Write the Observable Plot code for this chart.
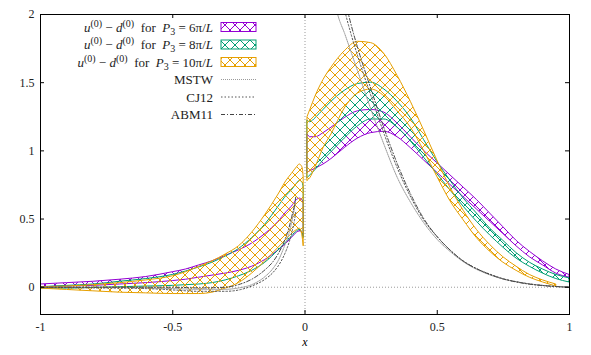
<!DOCTYPE html>
<html><head><meta charset="utf-8">
<script src="https://cdn.jsdelivr.net/npm/d3@7"></script>
<script src="https://cdn.jsdelivr.net/npm/@observablehq/plot@0.6"></script>
<style>
html,body{margin:0;padding:0;background:#fff;}
#chart{width:591px;height:355px;}
</style>
</head><body><div id="chart"></div>
<script>
// ---------- data ----------
const xTicks = [-1, -0.5, 0, 0.5, 1];
const xTickLabels = ["-1", "-0.5", "0", "0.5", "1"];
const yTicks = [0, 0.5, 1, 1.5, 2];
const yTickLabels = ["0", "0.5", "1", "1.5", "2"];

const p3Labels = ["6", "8", "10"];
const pdfNames = ["MSTW", "CJ12", "ABM11"];

const xLeft = [-1, -0.9, -0.8, -0.7, -0.6, -0.5, -0.45, -0.4, -0.35, -0.3, -0.25, -0.2, -0.15, -0.1, -0.07, -0.05, -0.03, -0.02, -0.01, -0.005];
const p6HiLeft  = [0.02, 0.03, 0.04, 0.055, 0.075, 0.11, 0.13, 0.16, 0.19, 0.23, 0.27, 0.32, 0.39, 0.48, 0.55, 0.59, 0.64, 0.65, 0.64, 0.61];
const p6LoLeft  = [0.0, 0.005, 0.01, 0.02, 0.03, 0.045, 0.055, 0.07, 0.085, 0.10, 0.12, 0.15, 0.20, 0.27, 0.32, 0.36, 0.40, 0.41, 0.40, 0.37];
const p8HiLeft  = [0.0, 0.01, 0.02, 0.04, 0.06, 0.09, 0.115, 0.145, 0.18, 0.225, 0.28, 0.36, 0.46, 0.59, 0.67, 0.71, 0.76, 0.78, 0.77, 0.73];
const p8LoLeft  = [-0.01, -0.01, -0.005, 0.0, 0.005, 0.01, 0.015, 0.02, 0.03, 0.05, 0.08, 0.12, 0.18, 0.27, 0.33, 0.37, 0.41, 0.42, 0.40, 0.36];
const p10HiLeft = [0.0, 0.005, 0.015, 0.03, 0.05, 0.08, 0.11, 0.15, 0.19, 0.24, 0.30, 0.40, 0.53, 0.68, 0.78, 0.83, 0.88, 0.90, 0.88, 0.81];
const p10LoLeft = [-0.01, -0.02, -0.03, -0.04, -0.045, -0.05, -0.05, -0.05, -0.04, -0.01, 0.03, 0.10, 0.19, 0.29, 0.35, 0.39, 0.42, 0.43, 0.38, 0.30];

const xRight = [0.01, 0.02, 0.04, 0.07, 0.1, 0.15, 0.2, 0.25, 0.3, 0.35, 0.4, 0.45, 0.5, 0.55, 0.6, 0.65, 0.7, 0.75, 0.8, 0.85, 0.9, 0.95, 1.0];
const p6HiRight  = [1.12, 1.10, 1.10, 1.13, 1.17, 1.24, 1.29, 1.30, 1.28, 1.20, 1.10, 1.00, 0.91, 0.82, 0.73, 0.64, 0.54, 0.44, 0.34, 0.26, 0.19, 0.13, 0.09];
const p6LoRight  = [0.84, 0.85, 0.87, 0.90, 0.94, 1.02, 1.09, 1.13, 1.14, 1.10, 1.02, 0.93, 0.84, 0.75, 0.66, 0.57, 0.48, 0.39, 0.30, 0.22, 0.16, 0.10, 0.07];
const p8HiRight  = [1.22, 1.21, 1.24, 1.30, 1.36, 1.44, 1.49, 1.50, 1.45, 1.36, 1.24, 1.08, 0.92, 0.78, 0.65, 0.54, 0.43, 0.34, 0.25, 0.18, 0.13, 0.09, 0.065];
const p8LoRight  = [0.80, 0.82, 0.86, 0.93, 0.99, 1.09, 1.18, 1.23, 1.23, 1.17, 1.07, 0.95, 0.83, 0.71, 0.59, 0.48, 0.38, 0.29, 0.21, 0.15, 0.10, 0.06, 0.035];
const p10HiRight = [1.25, 1.30, 1.40, 1.52, 1.61, 1.73, 1.80, 1.79, 1.71, 1.55, 1.36, 1.15, 0.93, 0.73, 0.56, 0.42, 0.31, 0.22, 0.15, 0.09, 0.05, 0.02, null];
const p10LoRight = [0.78, 0.80, 0.88, 1.02, 1.12, 1.31, 1.42, 1.45, 1.40, 1.29, 1.17, 1.00, 0.81, 0.63, 0.49, 0.36, 0.26, 0.18, 0.12, 0.07, 0.035, 0.005, null];

const xPdfLeft = [-1, -0.8, -0.6, -0.5, -0.4, -0.3, -0.25, -0.2, -0.15, -0.12, -0.1, -0.08, -0.06, -0.05, -0.04, -0.035];
const mstwLeft  = [0, 0, -0.005, -0.01, -0.015, -0.015, -0.005, 0.02, 0.08, 0.14, 0.20, 0.29, 0.40, 0.48, 0.58, 0.64];
const cj12Left  = [0, -0.005, -0.01, -0.02, -0.03, -0.03, -0.02, 0.01, 0.06, 0.11, 0.16, 0.23, 0.33, 0.40, 0.49, 0.55];
const abm11Left = [0, 0, 0, 0, -0.005, 0, 0.02, 0.06, 0.13, 0.19, 0.25, 0.33, 0.44, 0.52, 0.60, 0.66];

const xPdfRight = [0.1, 0.125, 0.15, 0.175, 0.2, 0.25, 0.3, 0.35, 0.4, 0.45, 0.5, 0.55, 0.6, 0.65, 0.7, 0.75, 0.8, 0.85, 0.9, 0.95, 1.0];
const mstwRight  = [2.20, 1.99, 1.86, 1.72, 1.58, 1.30, 1.04, 0.80, 0.62, 0.47, 0.35, 0.26, 0.185, 0.13, 0.09, 0.06, 0.04, 0.024, 0.013, 0.005, 0.0];
const cj12Right  = [2.45, 2.25, 2.03, 1.85, 1.69, 1.40, 1.12, 0.87, 0.66, 0.49, 0.37, 0.27, 0.19, 0.135, 0.095, 0.062, 0.04, 0.024, 0.013, 0.005, 0.0];
const abm11Right = [2.55, 2.35, 2.12, 1.92, 1.75, 1.45, 1.16, 0.90, 0.68, 0.50, 0.37, 0.27, 0.19, 0.135, 0.093, 0.06, 0.038, 0.022, 0.012, 0.005, 0.0];

// ---------- styles ----------
const SERIF = "'Liberation Serif', 'DejaVu Serif', serif";
const bandColors = ["#9400d3", "#009e73", "#e69f00"];
const pdfStyles = [
  {stroke: "#9a9a9a", dash: "1,1"},
  {stroke: "#555555", dash: "1.5,2"},
  {stroke: "#444444", dash: "4,2,1,2"}
];

const rowsOf = (xs, lo, hi) => xs.map((x, i) => ({x, lo: lo[i], hi: hi[i]}));
const lineOf = (xs, ys) => xs.map((x, i) => ({x, y: ys[i]}));

const bands = [
  [rowsOf(xLeft, p6LoLeft, p6HiLeft), rowsOf(xRight, p6LoRight, p6HiRight)],
  [rowsOf(xLeft, p8LoLeft, p8HiLeft), rowsOf(xRight, p8LoRight, p8HiRight)],
  [rowsOf(xLeft, p10LoLeft, p10HiLeft), rowsOf(xRight, p10LoRight, p10HiRight)]
];
const pdfs = [
  [lineOf(xPdfLeft, mstwLeft), lineOf(xPdfRight, mstwRight)],
  [lineOf(xPdfLeft, cj12Left), lineOf(xPdfRight, cj12Right)],
  [lineOf(xPdfLeft, abm11Left), lineOf(xPdfRight, abm11Right)]
];

const W = 591, H = 355, mL = 40, mR = 22, mT = 14, mB = 41;
const innerW = W - mL - mR, innerH = H - mT - mB, tick = 4;

const marks = [
  Plot.ruleY([0], {stroke: "#9a9a9a", strokeDasharray: "1,2"}),
  Plot.ruleX([0], {stroke: "#9a9a9a", strokeDasharray: "1,2"})
];
bands.forEach((sides, k) => {
  for (const rows of sides) {
    marks.push(Plot.areaY(rows, {x: "x", y1: "lo", y2: "hi", fill: `url(#hatch${k})`,
      stroke: bandColors[k], strokeWidth: 1, curve: "monotone-x", clip: true}));
  }
});
pdfs.forEach((sides, k) => {
  for (const rows of sides) {
    marks.push(Plot.line(rows, {x: "x", y: "y", stroke: pdfStyles[k].stroke,
      strokeDasharray: pdfStyles[k].dash, strokeWidth: 1, curve: "monotone-x", clip: true}));
  }
});
marks.push(
  Plot.tickX(xTicks, {x: d => d, insetTop: innerH - tick, stroke: "#000"}),
  Plot.tickX(xTicks, {x: d => d, insetBottom: innerH - tick, stroke: "#000"}),
  Plot.tickY(yTicks, {y: d => d, insetRight: innerW - tick, stroke: "#000"}),
  Plot.tickY(yTicks, {y: d => d, insetLeft: innerW - tick, stroke: "#000"}),
  Plot.axisX({ticks: xTicks, tickSize: 0, tickPadding: 8, label: null,
    tickFormat: d => xTickLabels[xTicks.indexOf(d)], fontSize: 12, fontFamily: SERIF, fill: "#222"}),
  Plot.axisY({ticks: yTicks, tickSize: 0, tickPadding: 6, label: null,
    tickFormat: d => yTickLabels[yTicks.indexOf(d)], fontSize: 12, fontFamily: SERIF, fill: "#222"}),
  Plot.text(["x"], {frameAnchor: "bottom", dy: 31, fontStyle: "italic", fontSize: 12,
    fontFamily: SERIF, fill: "#000"}),
  Plot.frame({stroke: "#000", strokeWidth: 1})
);

const plot = Plot.plot({
  width: W, height: H,
  marginLeft: mL, marginRight: mR, marginTop: mT, marginBottom: mB,
  x: {domain: [-1, 1]},
  y: {domain: [-0.2, 2]},
  style: {fontFamily: SERIF, fontSize: "12px", background: "#fff", color: "#000"},
  marks
});

// hatch patterns
const svg = d3.select(plot);
const defs = svg.insert("defs", ":first-child");
bandColors.forEach((c, k) => {
  const p = defs.append("pattern").attr("id", `hatch${k}`)
    .attr("patternUnits", "userSpaceOnUse").attr("width", 10).attr("height", 10);
  p.append("path").attr("d", "M-1,-1L11,11M11,-1L-1,11")
    .attr("stroke", c).attr("stroke-width", 1).attr("fill", "none");
});

// legend
const lg = svg.append("g").attr("font-family", SERIF).attr("font-size", 13).attr("fill", "#222");
const rowY = i => 27 + 17.5 * i;
const textRight = 213, swX = 221, swW = 35;
function addMath(t, parts) {
  let shift = 0;
  for (const [s, kind] of parts) {
    const ts = t.append("tspan").text(s);
    const target = kind === "sup" ? -5 : kind === "sub" ? 3 : 0;
    if (target !== shift) { ts.attr("dy", target - shift); shift = target; }
    if (kind === "i") ts.attr("font-style", "italic");
    if (kind === "sup" || kind === "sub") ts.attr("font-size", 10);
  }
}
p3Labels.forEach((p, i) => {
  const t = lg.append("text").attr("x", textRight).attr("y", rowY(i) + 4.5)
    .attr("text-anchor", "end").style("white-space", "pre");
  addMath(t, [["u", "i"], ["(0)", "sup"], [" − ", ""], ["d", "i"], ["(0)", "sup"],
    ["  for  ", ""], ["P", "i"], ["3", "sub"], [" = " + p + "π/", ""], ["L", "i"]]);
  lg.append("rect").attr("x", swX).attr("y", rowY(i) - 4.5).attr("width", swW).attr("height", 9)
    .attr("fill", `url(#hatch${i})`).attr("stroke", bandColors[i]).attr("stroke-width", 1);
});
pdfNames.forEach((n, j) => {
  const i = j + 3;
  lg.append("text").attr("x", textRight).attr("y", rowY(i) + 4.5).attr("text-anchor", "end").text(n);
  lg.append("line").attr("x1", swX).attr("x2", swX + swW).attr("y1", rowY(i)).attr("y2", rowY(i))
    .attr("stroke", pdfStyles[j].stroke).attr("stroke-dasharray", pdfStyles[j].dash);
});

document.getElementById("chart").appendChild(plot);
</script></body></html>
